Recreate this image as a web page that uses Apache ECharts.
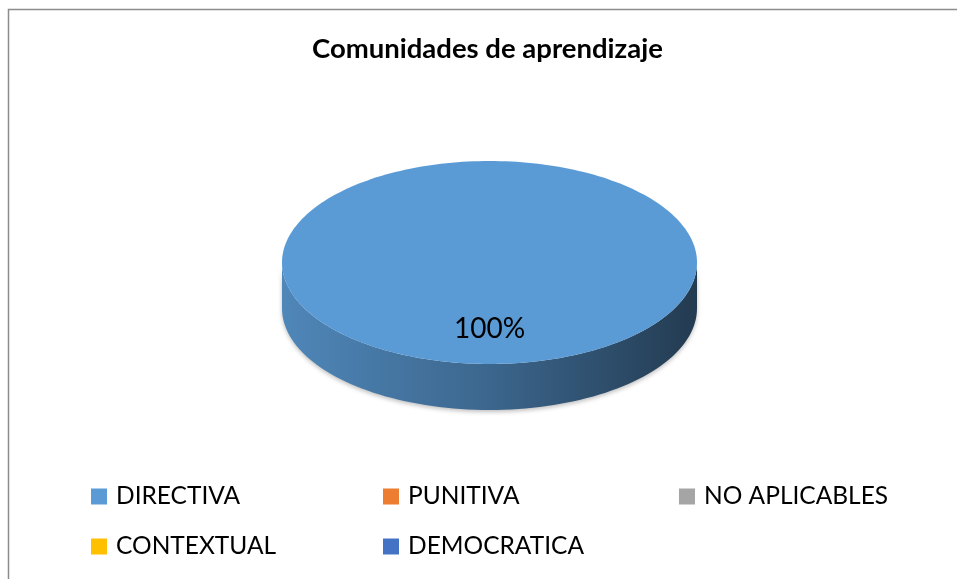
<!DOCTYPE html>
<html>
<head>
<meta charset="utf-8">
<script src="https://cdn.jsdelivr.net/npm/echarts@6/dist/echarts.min.js"></script>
<style>
html,body{margin:0;padding:0;background:#fff;}
#chart{width:957px;height:579px;}
</style>
</head>
<body>
<div id="chart"></div>
<script>
// ---- data ----
const title = 'Comunidades de aprendizaje';
const categories = ['DIRECTIVA', 'PUNITIVA', 'NO APLICABLES', 'CONTEXTUAL', 'DEMOCRATICA'];
const values = [100, 0, 0, 0, 0];
const colors = ['#5b9bd5', '#ed7d31', '#a5a5a5', '#ffc000', '#4472c4'];

// ---- styles ----
const FONT = 'Lato, "Liberation Sans", sans-serif';
const DEPTH = 0.453;        // side depth as fraction of vertical radius
const LABEL_R = 0.65;       // label radius (fraction)
const total = values.reduce((a, b) => a + b, 0);
const cum = [0];
values.forEach((v, i) => cum.push(cum[i] + v));

function shade(hex, f) {
  const n = parseInt(hex.slice(1), 16);
  const r = Math.round(((n >> 16) & 255) * f), g = Math.round(((n >> 8) & 255) * f), b = Math.round((n & 255) * f);
  return 'rgb(' + r + ',' + g + ',' + b + ')';
}

function makeRender(idx) {
  return function (params, api) {
    const v = values[idx];
    if (!v) return null;
    const a0 = 90 - 360 * cum[idx] / total;      // start angle (deg), clockwise
    const a1 = 90 - 360 * cum[idx + 1] / total;  // end angle
    const depthPx = api.size([0, DEPTH])[1];
    const pt = (deg, r) => api.coord([r * Math.cos(deg * Math.PI / 180), r * Math.sin(deg * Math.PI / 180)]);
    const children = [];
    // side (front half: angles where sin < 0)
    for (let k = -1; k <= 1; k++) {
      const lo = Math.max(a1, -180 + 360 * k), hi = Math.min(a0, 360 * k);
      if (hi > lo) {
        const top = [], bot = [];
        const n = Math.max(2, Math.ceil((hi - lo) / 2));
        for (let j = 0; j <= n; j++) {
          const d = lo + (hi - lo) * j / n;
          const p = pt(d, 1);
          top.push(p);
          bot.push([p[0], p[1] + depthPx]);
        }
        children.push({
          type: 'polygon',
          shape: { points: top.concat(bot.reverse()) },
          style: {
            fill: {
              type: 'linear', x: 0, y: 0, x2: 1, y2: 0,
              colorStops: [
                { offset: 0, color: shade(colors[idx], 0.87) },
                { offset: 0.5, color: shade(colors[idx], 0.66) },
                { offset: 1, color: shade(colors[idx], 0.38) }
              ]
            },
            shadowColor: 'rgba(0,0,0,0.25)', shadowBlur: 4, shadowOffsetY: 2
          }
        });
      }
    }
    // top face
    const pts = [];
    const full = (a0 - a1) >= 359.999;
    if (!full) pts.push(api.coord([0, 0]));
    const n = Math.max(2, Math.ceil((a0 - a1) / 1.5));
    for (let j = 0; j <= n; j++) pts.push(pt(a0 - (a0 - a1) * j / n, 1));
    children.push({ type: 'polygon', shape: { points: pts }, style: { fill: colors[idx] } });
    // label
    const mid = (a0 + a1) / 2;
    const lp = pt(mid, LABEL_R);
    children.push({
      type: 'text', x: lp[0], y: lp[1],
      style: {
        text: Math.round(100 * v / total) + '%',
        fill: '#000', font: '28px ' + FONT, align: 'center', verticalAlign: 'middle'
      }
    });
    return { type: 'group', children: children };
  };
}

const legendCols = [91, 383, 679];
const legendRows = [484, 534];

const option = {
  animation: false,
  backgroundColor: '#fff',
  title: {
    text: title, left: 312, top: 35, padding: 0,
    textStyle: { fontFamily: FONT, fontSize: 27.5, fontWeight: 'bold', color: '#000' }
  },
  graphic: [{
    type: 'polyline', silent: true,
    shape: { points: [[8.5, 700], [8.5, 9.5], [1000, 9.5]] },
    style: { stroke: '#8c8c8c', lineWidth: 1.5, fill: null }
  }],
  legend: categories.map((name, i) => ({
    data: [name],
    left: legendCols[i % 3],
    top: legendRows[Math.floor(i / 3)],
    padding: 0,
    icon: 'rect', itemWidth: 16, itemHeight: 16,
    selectedMode: false,
    textStyle: { fontFamily: FONT, fontSize: 24.5, color: '#000', padding: [0, 0, 0, 4] }
  })),
  grid: { left: 282, top: 161, width: 415, height: 203 },
  xAxis: { type: 'value', min: -1, max: 1, show: false },
  yAxis: { type: 'value', min: -1, max: 1, show: false },
  series: categories.map((name, i) => ({
    type: 'custom', name: name,
    itemStyle: { color: colors[i] },
    renderItem: makeRender(i),
    clip: false,
    data: [[0, 0, values[i]]]
  }))
};

const chart = echarts.init(document.getElementById('chart'));
chart.setOption(option);
</script>
</body>
</html>
